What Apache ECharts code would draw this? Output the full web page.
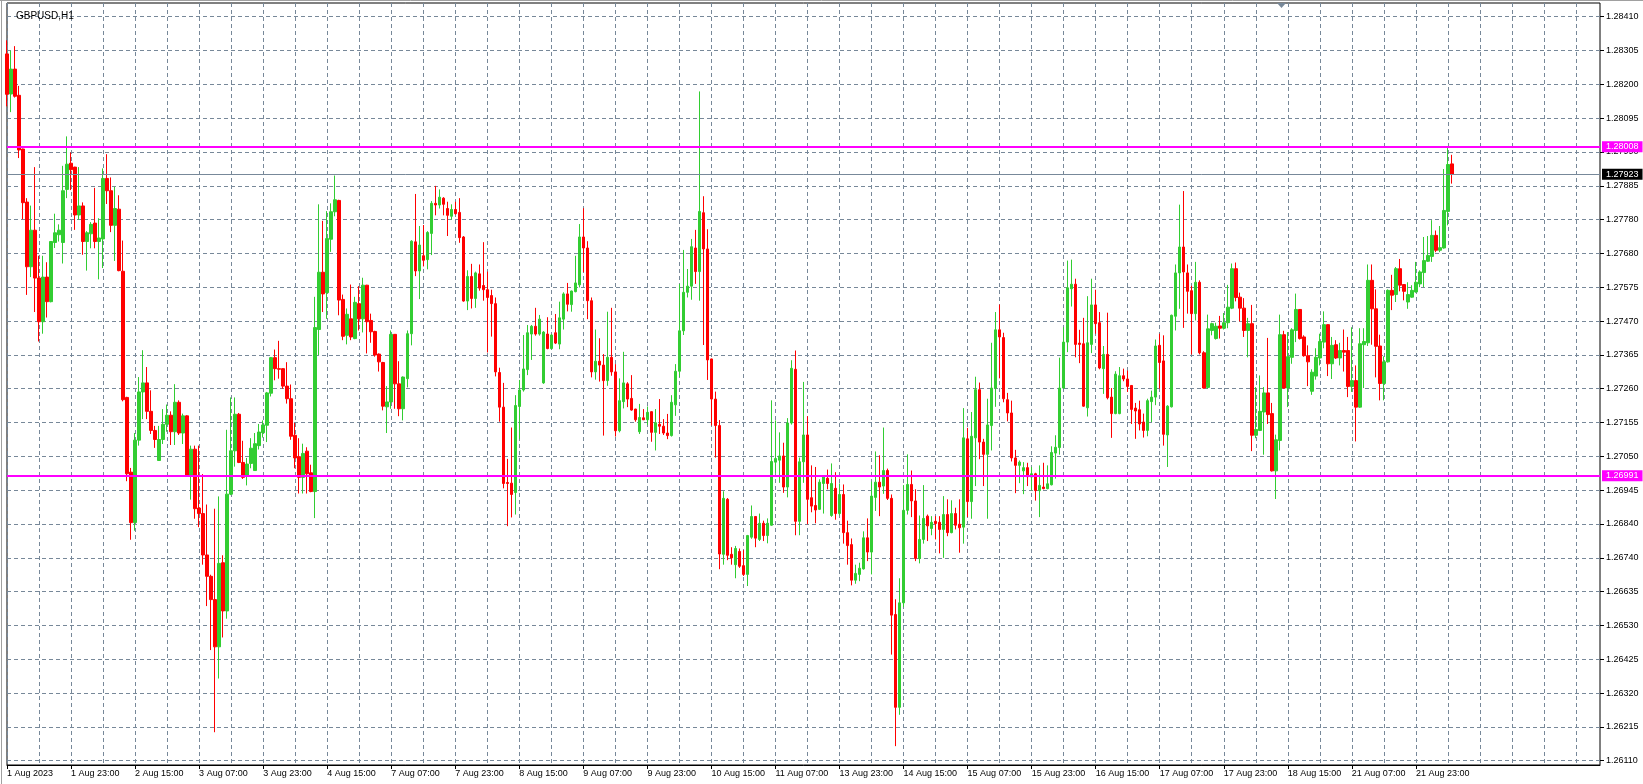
<!DOCTYPE html>
<html><head><meta charset="utf-8">
<script src="https://cdn.jsdelivr.net/npm/echarts@6/dist/echarts.min.js"></script>
<style>html,body{margin:0;padding:0;background:#fff}#c{width:1643px;height:784px}</style>
</head><body><div id="c"></div>
<script>
// ---- DATA (GBPUSD H1, from 1 Aug 2023 07:00) ----
const opens = [1.28295,1.28171,1.28248,1.28167,1.28001,1.27837,1.27637,1.27750,1.27602,1.27467,1.27605,1.27529,1.27712,1.27736,1.27712,1.27876,1.27957,1.27945,1.27797,1.27825,1.27715,1.27739,1.27772,1.27715,1.27723,1.27910,1.27872,1.27765,1.27815,1.27623,1.27233,1.27002,1.26846,1.27101,1.27250,1.27278,1.27190,1.27131,1.27038,1.27103,1.27150,1.27178,1.27127,1.27218,1.27123,1.27176,1.26992,1.27073,1.26891,1.26874,1.26746,1.26680,1.26608,1.26462,1.26722,1.26573,1.26934,1.27068,1.27181,1.27032,1.26991,1.27029,1.27007,1.27084,1.27124,1.27147,1.27246,1.27356,1.27322,1.27322,1.27268,1.27229,1.27116,1.27050,1.26986,1.27067,1.27000,1.26942,1.27443,1.27620,1.27557,1.27722,1.27807,1.27842,1.27536,1.27425,1.27476,1.27415,1.27523,1.27476,1.27580,1.27471,1.27437,1.27367,1.27341,1.27204,1.27219,1.27428,1.27275,1.27198,1.27291,1.27430,1.27714,1.27624,1.27671,1.27659,1.27740,1.27833,1.27828,1.27849,1.27817,1.27793,1.27814,1.27805,1.27729,1.27531,1.27607,1.27539,1.27615,1.27579,1.27566,1.27548,1.27523,1.27310,1.27203,1.26970,1.26968,1.26939,1.27205,1.27256,1.27319,1.27429,1.27453,1.27429,1.27278,1.27429,1.27384,1.27433,1.27398,1.27475,1.27553,1.27520,1.27560,1.27581,1.27729,1.27695,1.27532,1.27312,1.27345,1.27333,1.27285,1.27357,1.27312,1.27130,1.27220,1.27275,1.27230,1.27197,1.27127,1.27170,1.27164,1.27189,1.27125,1.27150,1.27144,1.27123,1.27115,1.27210,1.27314,1.27439,1.27558,1.27577,1.27695,1.27622,1.27804,1.27692,1.27352,1.27228,1.27146,1.26748,1.26918,1.26748,1.26716,1.26757,1.26713,1.26686,1.26801,1.26865,1.26794,1.26844,1.26806,1.26838,1.27033,1.27039,1.27052,1.26956,1.27154,1.27320,1.26850,1.27034,1.27117,1.26923,1.26899,1.26887,1.26967,1.26983,1.26868,1.26952,1.26874,1.26933,1.26815,1.26778,1.26668,1.26686,1.26703,1.26799,1.26755,1.26924,1.26971,1.26959,1.27007,1.26921,1.26562,1.26275,1.26598,1.26884,1.26964,1.26913,1.26735,1.26794,1.26866,1.26828,1.26850,1.26847,1.26825,1.26871,1.26815,1.26874,1.26841,1.26832,1.27105,1.26911,1.27108,1.27257,1.27095,1.27057,1.27146,1.27262,1.27442,1.27418,1.27226,1.27185,1.27046,1.27023,1.27006,1.27016,1.26987,1.26997,1.26945,1.26956,1.26951,1.26963,1.27061,1.27078,1.27262,1.27404,1.27569,1.27583,1.27401,1.27399,1.27201,1.27397,1.27519,1.27464,1.27322,1.27366,1.27234,1.27183,1.27183,1.27300,1.27290,1.27270,1.27200,1.27195,1.27157,1.27131,1.27220,1.27234,1.27394,1.27346,1.27117,1.27204,1.27484,1.27618,1.27698,1.27618,1.27563,1.27492,1.27589,1.27371,1.27264,1.27440,1.27415,1.27454,1.27447,1.27464,1.27509,1.27631,1.27543,1.27509,1.27440,1.27461,1.27116,1.27131,1.27188,1.27247,1.27183,1.27006,1.27100,1.27427,1.27262,1.27357,1.27440,1.27505,1.27420,1.27362,1.27252,1.27299,1.27355,1.27404,1.27458,1.27337,1.27396,1.27355,1.27378,1.27378,1.27267,1.27285,1.27203,1.27396,1.27402,1.27595,1.27507,1.27392,1.27276,1.27343,1.27564,1.27551,1.27631,1.27582,1.27528,1.27543,1.27559,1.27584,1.27619,1.27654,1.27669,1.27734,1.27688,1.27695,1.27808,1.27955];
const highs = [1.28337,1.28305,1.28319,1.28196,1.28002,1.27849,1.27826,1.27945,1.27671,1.27671,1.27651,1.27715,1.27801,1.27768,1.27949,1.28040,1.27990,1.27946,1.27945,1.27836,1.27747,1.27775,1.27881,1.27787,1.27941,1.27985,1.27913,1.27884,1.27858,1.27718,1.27235,1.27015,1.27123,1.27296,1.27379,1.27327,1.27255,1.27145,1.27145,1.27197,1.27211,1.27190,1.27274,1.27224,1.27183,1.27178,1.27084,1.27084,1.27084,1.26996,1.26902,1.26685,1.26889,1.26927,1.26745,1.27133,1.27233,1.27233,1.27185,1.27099,1.27046,1.27107,1.27123,1.27151,1.27162,1.27250,1.27358,1.27381,1.27408,1.27323,1.27342,1.27273,1.27154,1.27107,1.27090,1.27079,1.27025,1.27544,1.27830,1.27779,1.27809,1.27833,1.27919,1.27844,1.27551,1.27508,1.27582,1.27544,1.27577,1.27603,1.27581,1.27492,1.27439,1.27369,1.27343,1.27268,1.27440,1.27429,1.27345,1.27298,1.27440,1.27719,1.27862,1.27763,1.27766,1.27747,1.27840,1.27887,1.27876,1.27852,1.27838,1.27830,1.27838,1.27849,1.27732,1.27626,1.27646,1.27622,1.27644,1.27713,1.27622,1.27566,1.27542,1.27325,1.27278,1.27043,1.27140,1.27240,1.27287,1.27426,1.27457,1.27457,1.27510,1.27488,1.27438,1.27481,1.27429,1.27491,1.27529,1.27558,1.27587,1.27563,1.27671,1.27769,1.27818,1.27716,1.27542,1.27443,1.27416,1.27367,1.27498,1.27510,1.27336,1.27292,1.27374,1.27280,1.27302,1.27198,1.27213,1.27197,1.27205,1.27190,1.27197,1.27228,1.27166,1.27182,1.27240,1.27336,1.27584,1.27689,1.27630,1.27723,1.27751,1.28179,1.27855,1.27753,1.27353,1.27251,1.27163,1.26943,1.26922,1.26770,1.26774,1.26766,1.26761,1.26808,1.26899,1.26866,1.26874,1.26852,1.26859,1.27224,1.27162,1.27125,1.27093,1.27169,1.27348,1.27378,1.27047,1.27281,1.27175,1.27023,1.27018,1.26980,1.26990,1.27010,1.27029,1.27002,1.26967,1.26964,1.26852,1.26797,1.26716,1.26722,1.26819,1.26859,1.26973,1.27066,1.27054,1.27140,1.27013,1.26933,1.26609,1.26674,1.26962,1.27057,1.27007,1.26949,1.26868,1.26962,1.26871,1.26866,1.26866,1.26866,1.26928,1.26918,1.26915,1.26892,1.26918,1.27200,1.27139,1.27188,1.27297,1.27279,1.27105,1.27229,1.27402,1.27497,1.27520,1.27433,1.27247,1.27223,1.27071,1.27038,1.27033,1.27031,1.27018,1.27000,1.27023,1.27031,1.27023,1.27082,1.27116,1.27356,1.27450,1.27656,1.27659,1.27600,1.27442,1.27479,1.27546,1.27600,1.27566,1.27497,1.27392,1.27495,1.27262,1.27314,1.27327,1.27322,1.27316,1.27271,1.27216,1.27223,1.27183,1.27229,1.27254,1.27412,1.27430,1.27425,1.27209,1.27489,1.27644,1.27829,1.27871,1.27644,1.27578,1.27652,1.27595,1.27376,1.27489,1.27464,1.27464,1.27485,1.27494,1.27581,1.27647,1.27650,1.27557,1.27540,1.27479,1.27519,1.27265,1.27301,1.27265,1.27417,1.27216,1.27118,1.27489,1.27439,1.27435,1.27447,1.27554,1.27506,1.27425,1.27394,1.27320,1.27385,1.27430,1.27499,1.27459,1.27420,1.27410,1.27402,1.27443,1.27420,1.27450,1.27332,1.27447,1.27447,1.27644,1.27644,1.27567,1.27427,1.27360,1.27567,1.27612,1.27636,1.27661,1.27583,1.27589,1.27580,1.27652,1.27626,1.27729,1.27732,1.27781,1.27749,1.27763,1.27939,1.28004,1.27983];
const lows = [1.28133,1.28115,1.28160,1.27973,1.27784,1.27550,1.27605,1.27497,1.27406,1.27430,1.27480,1.27527,1.27695,1.27715,1.27647,1.27849,1.27874,1.27751,1.27783,1.27674,1.27625,1.27694,1.27694,1.27598,1.27633,1.27831,1.27744,1.27655,1.27623,1.27221,1.26974,1.26793,1.26821,1.27084,1.27166,1.27166,1.27120,1.27077,1.27038,1.27089,1.27127,1.27086,1.27086,1.27117,1.27089,1.26990,1.26917,1.26858,1.26832,1.26716,1.26588,1.26452,1.26198,1.26364,1.26491,1.26549,1.26931,1.27019,1.27030,1.26981,1.26961,1.27014,1.27007,1.27072,1.27109,1.27095,1.27236,1.27286,1.27291,1.27260,1.27214,1.27102,1.27014,1.26936,1.26936,1.26936,1.26940,1.26860,1.27364,1.27497,1.27476,1.27683,1.27793,1.27487,1.27410,1.27397,1.27410,1.27413,1.27440,1.27434,1.27369,1.27402,1.27359,1.27313,1.27193,1.27123,1.27198,1.27198,1.27175,1.27162,1.27264,1.27394,1.27608,1.27537,1.27638,1.27629,1.27673,1.27796,1.27817,1.27796,1.27732,1.27782,1.27798,1.27711,1.27529,1.27503,1.27508,1.27510,1.27563,1.27532,1.27372,1.27421,1.27298,1.27158,1.26952,1.26835,1.26862,1.26871,1.27104,1.27251,1.27302,1.27349,1.27424,1.27424,1.27275,1.27382,1.27382,1.27398,1.27382,1.27443,1.27499,1.27498,1.27558,1.27573,1.27620,1.27475,1.27295,1.27288,1.27282,1.27115,1.27269,1.27300,1.27112,1.27125,1.27199,1.27203,1.27192,1.27158,1.27120,1.27163,1.27148,1.27096,1.27069,1.27120,1.27117,1.27104,1.27112,1.27176,1.27296,1.27426,1.27542,1.27535,1.27584,1.27532,1.27395,1.27287,1.27146,1.27047,1.26702,1.26716,1.26730,1.26716,1.26674,1.26706,1.26681,1.26650,1.26796,1.26770,1.26789,1.26789,1.26782,1.26836,1.27000,1.26969,1.26938,1.26924,1.27149,1.26807,1.26807,1.26969,1.26841,1.26878,1.26844,1.26885,1.26874,1.26949,1.26864,1.26855,1.26868,1.26781,1.26716,1.26652,1.26657,1.26665,1.26701,1.26727,1.26686,1.26882,1.26866,1.26935,1.26916,1.26438,1.26155,1.26252,1.26585,1.26871,1.26863,1.26727,1.26720,1.26781,1.26789,1.26807,1.26794,1.26751,1.26737,1.26804,1.26813,1.26825,1.26753,1.26781,1.26863,1.26858,1.26959,1.27042,1.26959,1.26858,1.27069,1.27204,1.27292,1.27218,1.27159,1.27035,1.26937,1.26968,1.26934,1.26959,1.26945,1.26914,1.26863,1.26949,1.26949,1.26961,1.26982,1.27056,1.27260,1.27373,1.27514,1.27357,1.27339,1.27204,1.27174,1.27370,1.27430,1.27320,1.27244,1.27227,1.27108,1.27181,1.27181,1.27283,1.27250,1.27151,1.27105,1.27131,1.27109,1.27113,1.27157,1.27209,1.27260,1.27084,1.27018,1.27202,1.27440,1.27507,1.27448,1.27492,1.27366,1.27471,1.27366,1.27260,1.27260,1.27425,1.27412,1.27415,1.27443,1.27447,1.27506,1.27530,1.27468,1.27420,1.27357,1.27067,1.27107,1.27129,1.27056,1.27151,1.27004,1.26919,1.27069,1.27260,1.27203,1.27337,1.27404,1.27412,1.27359,1.27268,1.27241,1.27288,1.27332,1.27385,1.27299,1.27290,1.27352,1.27332,1.27313,1.27234,1.27250,1.27097,1.27201,1.27262,1.27392,1.27396,1.27295,1.27224,1.27224,1.27341,1.27503,1.27528,1.27561,1.27533,1.27507,1.27541,1.27557,1.27574,1.27574,1.27652,1.27652,1.27682,1.27682,1.27693,1.27765,1.27894];
const closes = [1.28170,1.28248,1.28164,1.27998,1.27835,1.27637,1.27750,1.27602,1.27467,1.27605,1.27529,1.27715,1.27742,1.27750,1.27872,1.27954,1.27937,1.27797,1.27825,1.27715,1.27742,1.27768,1.27715,1.27726,1.27910,1.27872,1.27765,1.27817,1.27625,1.27226,1.26997,1.26846,1.27101,1.27250,1.27278,1.27190,1.27131,1.27103,1.27103,1.27150,1.27178,1.27127,1.27218,1.27123,1.27176,1.26992,1.27073,1.26889,1.26874,1.26746,1.26680,1.26608,1.26462,1.26720,1.26573,1.26934,1.27068,1.27181,1.27032,1.26986,1.27027,1.27076,1.27090,1.27126,1.27148,1.27247,1.27356,1.27322,1.27320,1.27268,1.27229,1.27113,1.27046,1.26986,1.27060,1.26997,1.26942,1.27449,1.27620,1.27553,1.27724,1.27807,1.27844,1.27534,1.27422,1.27490,1.27420,1.27527,1.27476,1.27580,1.27467,1.27436,1.27364,1.27343,1.27206,1.27219,1.27428,1.27275,1.27198,1.27296,1.27430,1.27716,1.27624,1.27704,1.27657,1.27743,1.27833,1.27828,1.27852,1.27830,1.27796,1.27814,1.27801,1.27727,1.27531,1.27607,1.27539,1.27618,1.27571,1.27566,1.27542,1.27523,1.27312,1.27203,1.26967,1.26967,1.26933,1.27208,1.27256,1.27321,1.27433,1.27453,1.27429,1.27475,1.27435,1.27384,1.27426,1.27401,1.27479,1.27553,1.27521,1.27562,1.27587,1.27729,1.27695,1.27532,1.27312,1.27345,1.27333,1.27285,1.27357,1.27312,1.27130,1.27223,1.27278,1.27228,1.27194,1.27164,1.27171,1.27164,1.27187,1.27125,1.27155,1.27144,1.27123,1.27115,1.27218,1.27314,1.27439,1.27558,1.27577,1.27699,1.27622,1.27808,1.27692,1.27349,1.27228,1.27146,1.26749,1.26921,1.26745,1.26737,1.26766,1.26711,1.26686,1.26806,1.26865,1.26798,1.26844,1.26806,1.26844,1.27035,1.27044,1.27052,1.26956,1.27154,1.27323,1.26850,1.27034,1.27117,1.26918,1.26897,1.26885,1.26971,1.26987,1.26967,1.26967,1.26874,1.26933,1.26815,1.26775,1.26668,1.26689,1.26705,1.26799,1.26755,1.26928,1.26971,1.26956,1.27007,1.26921,1.26560,1.26275,1.26598,1.26884,1.26964,1.26913,1.26735,1.26794,1.26859,1.26836,1.26847,1.26843,1.26825,1.26871,1.26815,1.26874,1.26838,1.26830,1.27108,1.26911,1.27113,1.27257,1.27095,1.27057,1.27148,1.27262,1.27442,1.27420,1.27229,1.27185,1.27046,1.27023,1.27033,1.27016,1.26988,1.26997,1.26945,1.26961,1.26951,1.26966,1.27063,1.27079,1.27262,1.27404,1.27572,1.27583,1.27397,1.27397,1.27206,1.27402,1.27519,1.27461,1.27324,1.27366,1.27232,1.27183,1.27305,1.27300,1.27290,1.27267,1.27196,1.27191,1.27151,1.27131,1.27223,1.27234,1.27392,1.27341,1.27119,1.27206,1.27487,1.27618,1.27698,1.27621,1.27561,1.27492,1.27589,1.27371,1.27262,1.27445,1.27461,1.27453,1.27447,1.27464,1.27512,1.27631,1.27542,1.27509,1.27440,1.27461,1.27116,1.27134,1.27190,1.27247,1.27180,1.27006,1.27102,1.27427,1.27262,1.27359,1.27442,1.27505,1.27415,1.27362,1.27343,1.27311,1.27357,1.27406,1.27458,1.27337,1.27394,1.27355,1.27378,1.27373,1.27267,1.27285,1.27203,1.27399,1.27406,1.27595,1.27507,1.27391,1.27276,1.27343,1.27564,1.27549,1.27631,1.27580,1.27561,1.27551,1.27564,1.27589,1.27621,1.27656,1.27672,1.27734,1.27688,1.27696,1.27811,1.27953,1.27923];

const xTickLabels = ['1 Aug 2023','1 Aug 23:00','2 Aug 15:00','3 Aug 07:00','3 Aug 23:00','4 Aug 15:00','7 Aug 07:00','7 Aug 23:00','8 Aug 15:00','9 Aug 07:00','9 Aug 23:00','10 Aug 15:00','11 Aug 07:00','13 Aug 23:00','14 Aug 15:00','15 Aug 07:00','15 Aug 23:00','16 Aug 15:00','17 Aug 07:00','17 Aug 23:00','18 Aug 15:00','21 Aug 07:00','21 Aug 23:00'];
const yTickLabels = ['1.26110','1.26215','1.26320','1.26425','1.26530','1.26635','1.26740','1.26840','1.26945','1.27050','1.27155','1.27260','1.27365','1.27470','1.27575','1.27680','1.27780','1.27885','1.27990','1.28095','1.28200','1.28305','1.28410'];
const levelLines = [1.28008, 1.26991];
const bidPrice = 1.27923;
const chartTitle = 'GBPUSD,H1';

// ---- LAYOUT ----
const N_SLOTS = 399;          // visible bar slots (chart keeps empty space on the right)
const LABEL_EVERY = 16, GRID_EVERY = 8;
const Y_MIN = 1.26110, Y_MAX = 1.28410;
const Y_STEP = (Y_MAX - Y_MIN) / (yTickLabels.length - 1);
const FONT = 'Liberation Sans';
const GRID_COLOR = '#778899';
const UP = '#32CD32', DOWN = '#FF0000', MAGENTA = '#FF00FF';

const cats = Array.from({length: N_SLOTS}, (_, i) => String(i));
const candles = opens.map((o, i) => [o, closes[i], lows[i], highs[i]]);

const chart = echarts.init(document.getElementById('c'), null, {renderer: 'canvas'});

function lvlLabel(bg) {
  return {show: true, position: 'end', distance: 2, color: '#fff', backgroundColor: bg,
    padding: [1, 4, 0, 4], lineHeight: 10, fontSize: 9, fontFamily: FONT,
    formatter: p => Number(p.value).toFixed(5)};
}

chart.setOption({
  animation: false,
  backgroundColor: '#fff',
  title: {text: chartTitle, left: 11, top: 6,
    textStyle: {fontSize: 10, fontWeight: 'normal', color: '#000', fontFamily: FONT}},
  grid: [
    {left: 7, right: 43, top: 3, bottom: 19, show: true, borderColor: '#000', borderWidth: 1, backgroundColor: '#fff'},
    {left: 7, right: 43, top: 16.7, bottom: 23.3}
  ],
  xAxis: [
    {gridIndex: 0, type: 'category', data: cats, boundaryGap: false,
      axisLine: {show: true, lineStyle: {color: '#000', width: 1}},
      axisTick: {show: true, length: 4, lineStyle: {color: '#000'},
        interval: (i) => i % LABEL_EVERY === 0 && i / LABEL_EVERY < xTickLabels.length},
      axisLabel: {interval: LABEL_EVERY - 1, showMaxLabel: false, align: 'left', margin: 4,
        fontSize: 9, color: '#000', fontFamily: FONT,
        formatter: (v, i) => xTickLabels[i / LABEL_EVERY] || ''},
      splitLine: {show: true, interval: GRID_EVERY - 1, lineStyle: {color: GRID_COLOR, type: [4, 3], width: 1}}},
    {gridIndex: 1, type: 'category', data: cats, boundaryGap: false, show: false}
  ],
  yAxis: [
    {gridIndex: 0, type: 'value', show: false, min: 0, max: 1, splitLine: {show: false}},
    {gridIndex: 1, type: 'value', position: 'right', min: Y_MIN, max: Y_MAX, interval: Y_STEP,
      axisLine: {show: false},
      axisTick: {show: true, length: 4, lineStyle: {color: '#000'}},
      axisLabel: {margin: 6, fontSize: 9, color: '#000', fontFamily: FONT,
        formatter: (v) => yTickLabels[Math.round((v - Y_MIN) / Y_STEP)] || ''},
      splitLine: {show: true, lineStyle: {color: GRID_COLOR, type: [4, 3], width: 1}}}
  ],
  series: [{
    type: 'candlestick', xAxisIndex: 1, yAxisIndex: 1, data: candles, barWidth: 3,
    itemStyle: {color: UP, color0: DOWN, borderColor: UP, borderColor0: DOWN, borderWidth: 1},
    markLine: {
      symbol: 'none', silent: true, animation: false, precision: 5,
      data: [
        {yAxis: bidPrice, lineStyle: {color: GRID_COLOR, width: 1, type: 'solid'}, label: lvlLabel('#000')},
        {yAxis: levelLines[0], lineStyle: {color: MAGENTA, width: 2, type: 'solid'}, label: lvlLabel(MAGENTA)},
        {yAxis: levelLines[1], lineStyle: {color: MAGENTA, width: 2, type: 'solid'}, label: lvlLabel(MAGENTA)}
      ]
    }
  }],
  graphic: [
    {type: 'line', shape: {x1: 0, y1: 0.5, x2: 1643, y2: 0.5}, style: {stroke: '#a0a0a0', lineWidth: 1}, silent: true},
    {type: 'line', shape: {x1: 1.5, y1: 0, x2: 1.5, y2: 784}, style: {stroke: '#a0a0a0', lineWidth: 1}, silent: true},
    {type: 'polygon', shape: {points: [[1277, 3], [1286, 3], [1281.5, 8]]}, style: {fill: GRID_COLOR}, silent: true}
  ]
});
</script>
</body></html>
